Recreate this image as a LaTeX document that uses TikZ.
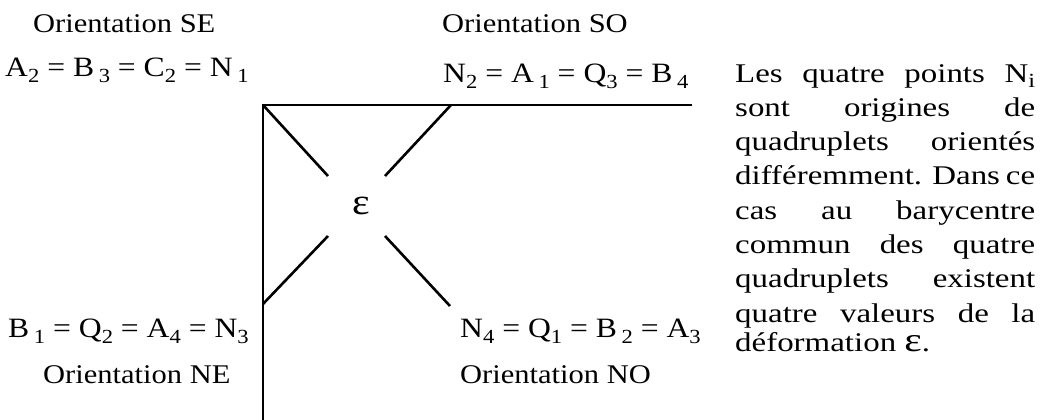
\documentclass[tikz,border=0pt]{standalone}
\usepackage{fontspec}
\setmainfont{Liberation Serif}[FakeStretch=1.13]
\newfontfamily\parafont{Liberation Serif}[FakeStretch=1.22]
\newcommand\sbs[1]{\raisebox{-0.22em}{\fontsize{20}{20}\selectfont #1}}
\begin{document}
\begin{tikzpicture}[x=1pt,y=-1pt,
  frame/.style={line width=2pt},
  diag/.style={line width=2.6pt},
  lbl/.style={inner sep=0pt,font=\fontsize{27}{32}\selectfont},
  eqn/.style={inner sep=0pt,font=\fontsize{28}{32}\selectfont}]
\useasboundingbox (0,0) rectangle (1049,420);
% frame
\coordinate (C) at (263,105);
\coordinate (H) at (692,105);
\coordinate (V) at (263,421);
\draw[frame] (H) -- (C) -- (V);
% diagonals
\coordinate (d1a) at (263,105); \coordinate (d1b) at (328,176);
\coordinate (d2a) at (451,105); \coordinate (d2b) at (385,176);
\coordinate (d3a) at (263,304); \coordinate (d3b) at (328,236);
\coordinate (d4a) at (385,236); \coordinate (d4b) at (450,306);
\draw[diag] (d1a) -- (d1b);
\draw[diag] (d2a) -- (d2b);
\draw[diag] (d3a) -- (d3b);
\draw[diag] (d4a) -- (d4b);
\node[inner sep=0pt,font=\fontsize{37}{37}\selectfont] (eps) at (361,206) {ε};
% labels
\node[lbl,anchor=base west] (oSE) at (33,33) {Orientation SE};
\node[eqn,anchor=base west] (nSE) at (5,76) {A\sbs{2} = B\,\sbs{3} = C\sbs{2} = N\,\sbs{1}};
\node[lbl,anchor=base west] (oSO) at (442,33) {Orientation SO};
\node[eqn,anchor=base west] (nSO) at (443,82) {N\sbs{2} = A\,\sbs{1} = Q\sbs{3} = B\,\sbs{4}};
\node[eqn,anchor=base west] (nNE) at (8,337) {B\,\sbs{1} = Q\sbs{2} = A\sbs{4} = N\sbs{3}};
\node[lbl,anchor=base west] (oNE) at (43,383) {Orientation NE};
\node[eqn,anchor=base west] (nNO) at (460,337) {N\sbs{4} = Q\sbs{1} = B\,\sbs{2} = A\sbs{3}};
\node[lbl,anchor=base west] (oNO) at (460,383) {Orientation NO};
% paragraph
\node[inner sep=0pt,anchor=base west,text width=300pt,align=justify] (txt) at (735,82)
{\parindent=0pt\parafont\fontsize{27}{34.3}\selectfont
{\parfillskip=0pt Les quatre points N\sbs{i}\linebreak
sont origines de\linebreak
quadruplets orientés\linebreak
différemment. Dans ce\linebreak
cas au barycentre\linebreak
commun des quatre\linebreak
quadruplets existent\linebreak
quatre valeurs de la\par}
\vspace{4pt}
déformation {\fontsize{34}{34}\selectfont ε}.};
\end{tikzpicture}
\end{document}
